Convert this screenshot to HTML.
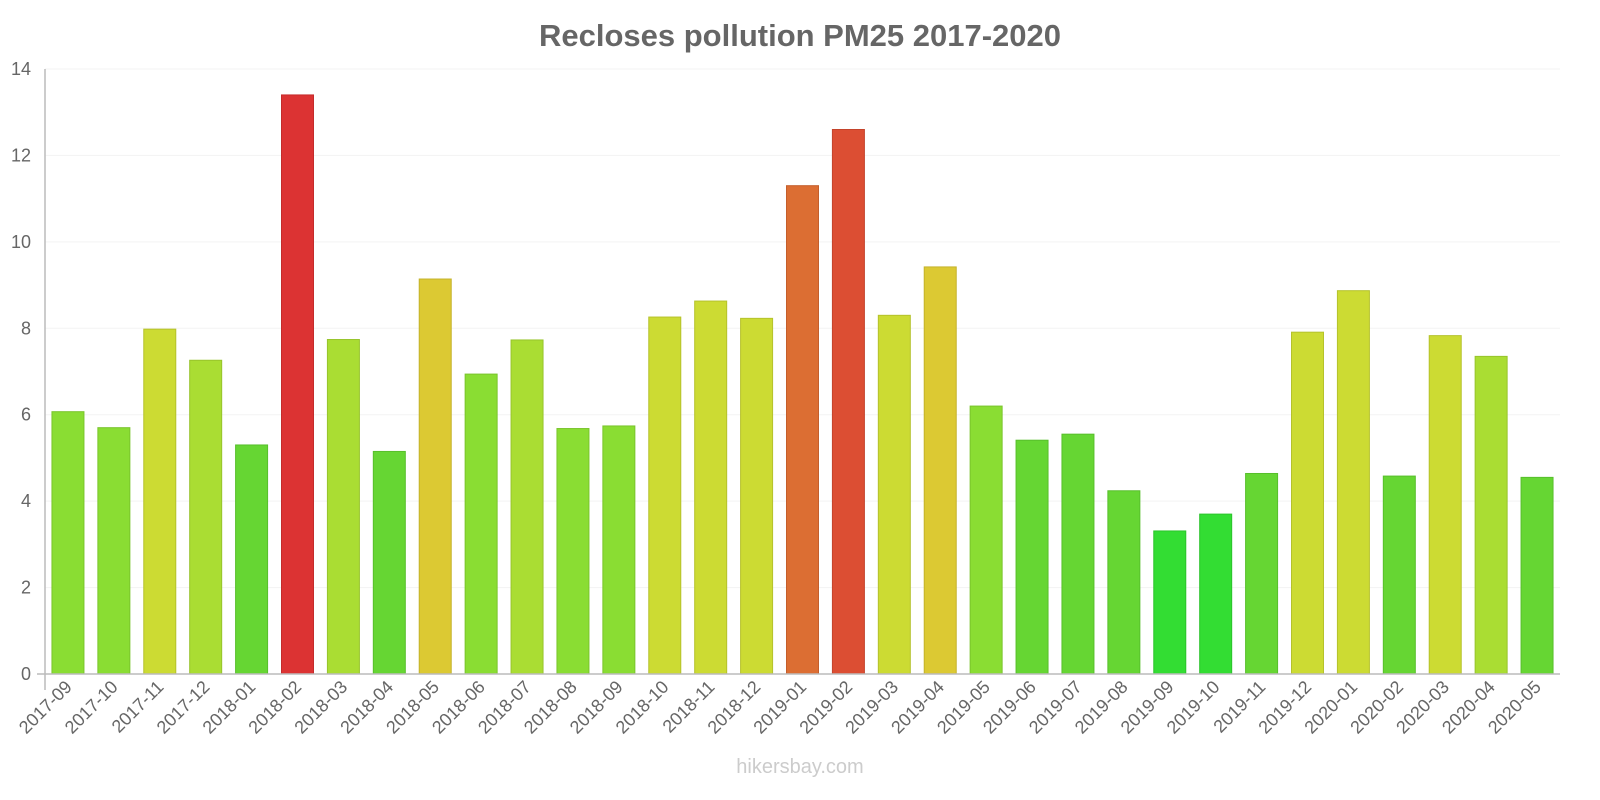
<!DOCTYPE html>
<html><head><meta charset="utf-8"><style>
html,body{margin:0;padding:0;background:#fff;}
svg{display:block;font-family:"Liberation Sans",sans-serif;}
</style></head><body>
<svg id="chart" width="1600" height="800">
<text x="800" y="46" text-anchor="middle" font-size="31" font-weight="bold" fill="#666">Recloses pollution PM25 2017-2020</text>
<g id="grid"></g><g id="bars"></g><g id="xlabels"></g><g id="ylabels"></g>
<line x1="45" y1="69" x2="45" y2="690" stroke="#bbb" stroke-width="1.5"/>
<line x1="37" y1="674" x2="1560" y2="674" stroke="#bbb" stroke-width="1.5"/>
<text x="800" y="773" text-anchor="middle" font-size="20" fill="#ccc">hikersbay.com</text>
</svg>
<script>
const categories=["2017-09","2017-10","2017-11","2017-12","2018-01","2018-02","2018-03","2018-04","2018-05","2018-06","2018-07","2018-08","2018-09","2018-10","2018-11","2018-12","2019-01","2019-02","2019-03","2019-04","2019-05","2019-06","2019-07","2019-08","2019-09","2019-10","2019-11","2019-12","2020-01","2020-02","2020-03","2020-04","2020-05"];
const values=[6.07,5.7,7.98,7.26,5.3,13.4,7.74,5.15,9.14,6.94,7.73,5.68,5.74,8.26,8.63,8.23,11.3,12.6,8.3,9.42,6.2,5.41,5.55,4.24,3.31,3.7,4.64,7.91,8.87,4.58,7.83,7.35,4.55];
const yTicks=[0,2,4,6,8,10,12,14];
const NS="http://www.w3.org/2000/svg";
const x0=45,x1=1560,yBase=674,yTop=69,yMax=14;
const band=(x1-x0)/categories.length;
function y(v){return yBase-(v/yMax)*(yBase-yTop);}
function xc(i){return x0+band*(i+0.5);}
function color(v){
 if(v<4)return["#33dd33","#2bc42b"];
 if(v<5.6)return["#66d633","#57bf2b"];
 if(v<7)return["#8add33","#79c42b"];
 if(v<7.8)return["#aadd33","#97c42b"];
 if(v<9)return["#ccdb33","#b5c22b"];
 if(v<10)return["#dcc933","#c4b22b"];
 if(v<12)return["#dc6e33","#c45e2b"];
 if(v<13)return["#dc4e33","#c4432b"];
 return["#dc3333","#c42b2b"];
}
const grid=document.getElementById('grid'),bars=document.getElementById('bars'),xl=document.getElementById('xlabels'),yl=document.getElementById('ylabels');
yTicks.forEach(t=>{
 const l=document.createElementNS(NS,'line');
 l.setAttribute('x1',x0);l.setAttribute('x2',x1);l.setAttribute('y1',y(t));l.setAttribute('y2',y(t));
 l.setAttribute('stroke','#f3f3f3');
 
 
 grid.appendChild(l);
 const tx=document.createElementNS(NS,'text');
 tx.setAttribute('x',31);tx.setAttribute('y',y(t)+6);tx.setAttribute('text-anchor','end');
 tx.setAttribute('font-size','18');tx.setAttribute('fill','#666');
 tx.textContent=t;
 
 
 yl.appendChild(tx);
});
categories.forEach((c,i)=>{
 const v=values[i],[f,s]=color(v),w=32;
 const r=document.createElementNS(NS,'rect');
 r.setAttribute('x',xc(i)-w/2);r.setAttribute('y',y(v));r.setAttribute('width',w);r.setAttribute('height',yBase-y(v));
 r.setAttribute('fill',f);r.setAttribute('stroke',s);r.setAttribute('stroke-width','1');
 
 
 bars.appendChild(r);
 const t=document.createElementNS(NS,'text');
 const lx=xc(i)+5,ly=688;
 t.setAttribute('x',lx);t.setAttribute('y',ly);t.setAttribute('text-anchor','end');
 t.setAttribute('font-size','18');t.setAttribute('fill','#666');
 t.setAttribute('transform','rotate(-45 '+lx+' '+ly+')');
 t.textContent=c;
 
 
 xl.appendChild(t);
});
</script>
</body></html>
